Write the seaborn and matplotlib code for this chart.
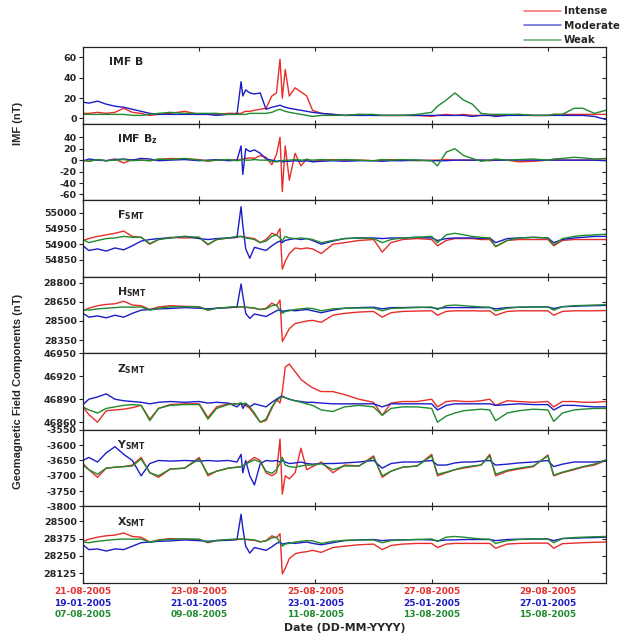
import numpy as np
import pandas as pd
import matplotlib
matplotlib.use('Agg')
import matplotlib.pyplot as plt
import matplotlib.lines as mlines
import seaborn as sns

# sample times in days since 21-08-2005 00 UT (intense storm)
days = [0.0, 0.1, 0.25, 0.4, 0.55, 0.7, 0.85, 1.0, 1.15, 1.3,
        1.5, 1.75, 2.0, 2.15, 2.3, 2.5, 2.65, 2.72, 2.75, 2.8,
        2.87, 2.95, 3.05, 3.15, 3.25, 3.33, 3.39, 3.43, 3.48, 3.55,
        3.65, 3.75, 3.85, 3.95, 4.1, 4.3, 4.5, 4.75, 5.0, 5.15,
        5.3, 5.5, 5.75, 6.0, 6.1, 6.25, 6.4, 6.55, 6.7, 6.85,
        7.0, 7.1, 7.3, 7.5, 7.75, 8.0, 8.1, 8.25, 8.45, 8.6,
        8.8, 9.0]

storms = ['Intense', 'Moderate', 'Weak']
colors = ['#e62e2a', '#1c1cc8', '#1f8a2e']

# IMF B (nT)
imf_b_intense = [5, 5, 6, 5, 6, 10, 6, 5, 3, 4,
                 5, 7, 4, 4, 4, 5, 5, 5, 6, 7,
                 7, 8, 9, 10, 22, 25, 58, 20, 48, 22,
                 30, 26, 22, 8, 5, 4, 3, 4, 3, 3,
                 3, 3, 3, 2, 3, 4, 3, 4, 3, 3,
                 3, 3, 3, 4, 3, 3, 4, 4, 4, 4,
                 4, 4]
imf_b_moderate = [16, 15, 17, 14, 12, 11, 9, 7, 5, 4,
                  4, 4, 4, 4, 3, 4, 4, 36, 22, 28,
                  25, 24, 25, 9, 11, 12, 13, 12, 11, 10,
                  9, 8, 7, 6, 5, 4, 3, 3, 3, 3,
                  3, 3, 3, 3, 3, 3, 3, 3, 2, 3,
                  3, 2, 3, 3, 3, 3, 3, 3, 3, 3,
                  2, -1]
imf_b_weak = [4, 4, 4, 4, 4, 4, 3, 3, 4, 5,
              6, 5, 5, 5, 5, 4, 4, 4, 4, 4,
              5, 5, 5, 5, 6, 8, 9, 8, 7, 6,
              5, 4, 3, 2, 3, 3, 3, 4, 4, 3,
              3, 3, 4, 6, 12, 18, 25, 18, 14, 5,
              4, 4, 4, 4, 3, 3, 4, 4, 10, 10,
              5, 8]

# IMF Bz (nT)
bz_intense = [0, -2, 1, -1, 2, -5, 1, 0, -1, 1,
              3, 2, 1, -2, 0, 1, 0, 1, 2, 3,
              4, 3, 8, 5, -8, 10, 40, -55, 25, -35,
              12, -10, 2, -2, 0, 1, 0, 0, -1, 0,
              1, 0, -1, 0, 0, 1, 0, 0, 0, 0,
              -1, 0, 0, -3, -2, 0, 1, 0, 0, 0,
              0, 0]
bz_moderate = [-2, 2, 0, -1, 1, 2, 0, 3, 2, -1,
               0, 1, -1, 0, 1, -1, 0, 25, -25, 20,
               15, 18, 12, 2, 0, -2, -1, -3, -2, -2,
               -1, -2, -1, -3, -2, -1, -2, -1, -1, -2,
               -1, -1, 0, -1, -1, -1, 0, 0, 0, 0,
               0, 0, 0, 0, 0, 0, 0, 0, 0, 0,
               0, -1]
bz_weak = [0, -2, 1, -1, 0, 1, -1, 0, -1, 2,
           1, 3, 0, -1, 0, 1, -1, 0, 1, 0,
           0, 1, 0, 0, -2, -3, -2, -1, 0, 0,
           1, 0, 1, 0, 1, 0, 1, 0, -1, 1,
           0, 1, 0, -1, -10, 14, 20, 8, 3, -2,
           0, 2, 0, 1, 2, 0, 2, 3, 5, 4,
           2, 3]

# F SMT (nT)
f_intense = [54912, 54918, 54925, 54930, 54935, 54942, 54925, 54922, 54900, 54915,
             54922, 54920, 54922, 54898, 54915, 54920, 54922, 54925, 54924, 54922,
             54920, 54918, 54905, 54915, 54935, 54930, 54950, 54820, 54845, 54870,
             54888, 54885, 54888, 54885, 54870, 54900, 54905, 54912, 54915, 54875,
             54905, 54915, 54918, 54915, 54895, 54912, 54918, 54918, 54918, 54915,
             54915, 54892, 54912, 54915, 54915, 54915, 54895, 54912, 54915, 54915,
             54915, 54915]
f_moderate = [54895, 54880, 54885, 54878, 54888, 54882, 54895, 54910, 54915, 54918,
              54920, 54925, 54918, 54915, 54918, 54920, 54922, 55020, 54960, 54885,
              54855, 54890, 54885, 54880, 54895, 54905, 54910, 54905, 54912, 54915,
              54918, 54915, 54918, 54912, 54900, 54910, 54918, 54920, 54920, 54918,
              54920, 54920, 54922, 54920, 54912, 54918, 54920, 54920, 54920, 54918,
              54920, 54905, 54918, 54920, 54922, 54920, 54905, 54915, 54920, 54922,
              54925, 54925]
f_weak = [54915, 54905, 54912, 54918, 54920, 54925, 54922, 54922, 54902, 54915,
          54920, 54925, 54922, 54900, 54915, 54920, 54925, 54925, 54922, 54920,
          54918, 54915, 54905, 54910, 54925, 54930, 54920, 54910, 54925, 54920,
          54918, 54920, 54918, 54915, 54905, 54912, 54918, 54920, 54918, 54905,
          54915, 54920, 54922, 54925, 54905, 54930, 54935, 54930, 54925, 54922,
          54920, 54893, 54912, 54920, 54922, 54920, 54898, 54918, 54925, 54928,
          54930, 54932]

# H SMT (nT)
h_intense = [28580, 28600, 28620, 28630, 28635, 28655, 28625, 28620, 28590, 28610,
             28620, 28615, 28612, 28585, 28600, 28605, 28608, 28610, 28610, 28608,
             28605, 28600, 28590, 28600, 28640, 28620, 28665, 28340, 28380, 28440,
             28480, 28490, 28500, 28505, 28490, 28545, 28560, 28570, 28575, 28530,
             28565, 28575, 28578, 28580, 28545, 28575, 28580, 28580, 28580, 28578,
             28580, 28545, 28575, 28580, 28580, 28580, 28545, 28575, 28580, 28580,
             28580, 28582]
h_moderate = [28560, 28530, 28540, 28525, 28545, 28530, 28560, 28585, 28590, 28595,
              28598, 28605, 28600, 28595, 28600, 28605, 28610, 28790, 28700, 28560,
              28520, 28555, 28545, 28535, 28560, 28580, 28590, 28575, 28580, 28585,
              28580, 28585, 28590, 28580, 28565, 28585, 28600, 28605, 28608, 28595,
              28605, 28605, 28608, 28605, 28598, 28605, 28605, 28605, 28605, 28605,
              28605, 28595, 28605, 28608, 28610, 28610, 28598, 28612, 28615, 28618,
              28620, 28622]
h_weak = [28590, 28585, 28595, 28600, 28605, 28610, 28608, 28610, 28585, 28600,
          28610, 28612, 28610, 28585, 28600, 28608, 28612, 28612, 28610, 28608,
          28605, 28602, 28590, 28595, 28620, 28625, 28580, 28560, 28575, 28580,
          28590, 28595, 28600, 28598, 28580, 28595, 28600, 28602, 28602, 28580,
          28598, 28602, 28605, 28610, 28590, 28620, 28625, 28620, 28615, 28610,
          28608, 28580, 28600, 28608, 28610, 28610, 28585, 28612, 28620, 28622,
          28625, 28628]

# Z SMT (nT)
z_intense = [46880, 46870, 46860, 46875, 46876, 46877, 46879, 46882, 46864, 46878,
             46883, 46884, 46884, 46866, 46880, 46884, 46884, 46884, 46883, 46882,
             46878, 46870, 46860, 46862, 46878, 46890, 46885, 46900, 46932, 46936,
             46926, 46916, 46910, 46905, 46900, 46900, 46896, 46890, 46886, 46869,
             46885, 46887, 46887, 46890, 46880, 46887, 46888, 46887, 46887, 46888,
             46890, 46882, 46888, 46887, 46886, 46887, 46880, 46887, 46887, 46886,
             46886, 46887]
z_moderate = [46883, 46890, 46893, 46897, 46890, 46888, 46887, 46886, 46884, 46886,
              46887, 46886, 46887, 46885, 46886, 46885, 46880, 46885, 46878, 46884,
              46880, 46884, 46882, 46880, 46886, 46890, 46893, 46894, 46892, 46890,
              46888, 46887, 46886, 46886, 46885, 46884, 46884, 46884, 46884, 46880,
              46884, 46884, 46884, 46884, 46876, 46882, 46884, 46884, 46884, 46884,
              46884, 46882, 46883, 46884, 46883, 46883, 46876, 46882, 46882, 46881,
              46880, 46880]
z_weak = [46880, 46876, 46872, 46878, 46880, 46882, 46883, 46882, 46862, 46878,
          46882, 46883, 46883, 46864, 46878, 46883, 46884, 46885, 46884, 46885,
          46880, 46872, 46860, 46864, 46880, 46888, 46892, 46893, 46892, 46890,
          46888, 46886, 46884, 46882, 46876, 46874, 46880, 46882, 46880, 46869,
          46878, 46880, 46880, 46878, 46860, 46868, 46872, 46875, 46876, 46877,
          46876, 46862, 46872, 46875, 46877, 46876, 46861, 46872, 46876, 46877,
          46878, 46878]

# Y SMT (nT)
y_intense = [-3660, -3680, -3705, -3675, -3672, -3670, -3665, -3640, -3690, -3705,
             -3678, -3675, -3640, -3700, -3685, -3675, -3672, -3670, -3668, -3660,
             -3650, -3640, -3650, -3690, -3700, -3690, -3580, -3760, -3700, -3710,
             -3690, -3610, -3680, -3670, -3655, -3690, -3665, -3668, -3635, -3705,
             -3685, -3672, -3668, -3630, -3700, -3690, -3680, -3675, -3670, -3665,
             -3630, -3700, -3685, -3678, -3670, -3632, -3700, -3690, -3680, -3672,
             -3665, -3650]
y_moderate = [-3650, -3640, -3655, -3625, -3605, -3630, -3650, -3700, -3660, -3650,
              -3652, -3650, -3652, -3650, -3652, -3650, -3655, -3630, -3690, -3650,
              -3700, -3730, -3660, -3650, -3652, -3650, -3655, -3650, -3655, -3660,
              -3658, -3655, -3660, -3662, -3660, -3660, -3658, -3655, -3650, -3675,
              -3660, -3655, -3655, -3650, -3665, -3665, -3658, -3655, -3655, -3652,
              -3650, -3665, -3662, -3658, -3655, -3650, -3670, -3662, -3655, -3655,
              -3655, -3652]
y_weak = [-3665, -3680, -3695, -3675, -3672, -3670, -3668, -3645, -3690, -3700,
          -3678, -3675, -3645, -3695, -3685, -3675, -3672, -3670, -3668, -3662,
          -3655, -3648, -3655, -3685, -3692, -3680, -3660, -3640, -3665, -3670,
          -3672, -3668, -3665, -3665, -3660, -3680, -3668, -3668, -3640, -3700,
          -3685, -3672, -3668, -3635, -3695, -3688, -3680, -3672, -3668, -3665,
          -3635, -3695, -3682, -3675, -3668, -3635, -3698, -3688, -3678, -3670,
          -3662, -3648]

# X SMT (nT)
x_intense = [28355, 28370, 28385, 28395, 28400, 28415, 28390, 28385, 28350, 28365,
             28375, 28370, 28368, 28345, 28360, 28365, 28368, 28370, 28370, 28368,
             28365, 28362, 28350, 28360, 28395, 28380, 28410, 28120, 28160, 28230,
             28265, 28275, 28280, 28290, 28275, 28310, 28320, 28330, 28335, 28295,
             28325, 28335, 28340, 28340, 28310, 28335, 28340, 28340, 28340, 28340,
             28340, 28305, 28335, 28340, 28342, 28342, 28305, 28338, 28342, 28345,
             28348, 28350]
x_moderate = [28330, 28295, 28300, 28285, 28300, 28295, 28320, 28345, 28350, 28355,
              28358, 28365, 28360, 28355, 28360, 28362, 28368, 28550, 28450, 28320,
              28270, 28310, 28300, 28290, 28315, 28340, 28350, 28335, 28340, 28345,
              28340, 28345, 28350, 28340, 28330, 28345, 28360, 28365, 28368, 28360,
              28365, 28365, 28368, 28365, 28358, 28365, 28365, 28368, 28368, 28368,
              28368, 28360, 28368, 28370, 28372, 28372, 28360, 28375, 28378, 28380,
              28382, 28385]
x_weak = [28350, 28345, 28355, 28362, 28368, 28372, 28370, 28372, 28348, 28362,
          28370, 28372, 28370, 28348, 28362, 28368, 28372, 28372, 28370, 28370,
          28368, 28365, 28352, 28358, 28380, 28385, 28345, 28320, 28335, 28340,
          28350, 28355, 28360, 28358, 28340, 28355, 28362, 28365, 28365, 28345,
          28360, 28365, 28368, 28372, 28355, 28385, 28390, 28385, 28378, 28372,
          28370, 28340, 28360, 28368, 28372, 28372, 28345, 28375, 28382, 28385,
          28388, 28390]

tick_days = [0, 2, 4, 6, 8]
intense_dates = ['21-08-2005', '23-08-2005', '25-08-2005', '27-08-2005', '29-08-2005']
moderate_dates = ['19-01-2005', '21-01-2005', '23-01-2005', '25-01-2005', '27-01-2005']
weak_dates = ['07-08-2005', '09-08-2005', '11-08-2005', '13-08-2005', '15-08-2005']

panels = [
    (r'IMF B', [imf_b_intense, imf_b_moderate, imf_b_weak], (-5, 70), [0, 20, 40, 60]),
    (r'IMF B$_\mathbf{z}$', [bz_intense, bz_moderate, bz_weak], (-70, 64), [-60, -40, -20, 0, 20, 40]),
    (r'$\mathbf{F_{SMT}}$', [f_intense, f_moderate, f_weak], (54796, 55041), [54850, 54900, 54950, 55000]),
    (r'$\mathbf{H_{SMT}}$', [h_intense, h_moderate, h_weak], (28247, 28847), [28350, 28500, 28650, 28800]),
    (r'$\mathbf{Z_{SMT}}$', [z_intense, z_moderate, z_weak], (46850, 46950), [46860, 46890, 46920, 46950]),
    (r'$\mathbf{Y_{SMT}}$', [y_intense, y_moderate, y_weak], (-3800, -3550), [-3800, -3750, -3700, -3650, -3600, -3550]),
    (r'$\mathbf{X_{SMT}}$', [x_intense, x_moderate, x_weak], (28054, 28607), [28125, 28250, 28375, 28500]),
]

sns.set_style('ticks')
plt.rcParams['font.family'] = ['DejaVu Sans']
plt.rcParams['mathtext.fontset'] = 'dejavusans'

fig = plt.figure(figsize=(6.2, 6.39), dpi=100)
gs = fig.add_gridspec(7, 1, left=83 / 620, right=606 / 620,
                      top=1 - 47 / 639, bottom=1 - 583 / 639, hspace=0)

for k, (label, series, ylim, yticks) in enumerate(panels):
    ax = fig.add_subplot(gs[k])
    for s in series:
        assert len(s) == len(days)
    df = pd.DataFrame({'day': days * 3,
                       'value': series[0] + series[1] + series[2],
                       'storm': [st for st in storms for _ in days]})
    sns.lineplot(data=df, x='day', y='value', hue='storm', palette=colors,
                 estimator=None, lw=1.0, legend=False, ax=ax)
    ax.set_xlim(0, 9)
    ax.set_ylim(*ylim)
    ax.set_yticks(yticks)
    ax.set_yticklabels([str(v) for v in yticks], fontsize=6.8, fontweight='bold')
    ax.set_xticks(tick_days)
    ax.set_xticklabels([])
    ax.set_xlabel('')
    ax.set_ylabel('')
    ax.tick_params(axis='x', direction='in', top=True, length=3, width=0.8)
    ax.tick_params(axis='y', direction='out', right=True, length=3, width=0.8, pad=1.5)
    for t in ax.yaxis.get_major_ticks():
        t.tick2line.set_marker(mlines.TICKLEFT)
    for sp in ax.spines.values():
        sp.set_linewidth(0.9)
        sp.set_color('#222222')
    ax.text(0.05 if k == 0 else 0.065, 0.8, label, transform=ax.transAxes,
            fontsize=7.8, fontweight='bold', va='center')

# three-line date labels under the bottom panel
for d, a, b, c in zip(tick_days, intense_dates, moderate_dates, weak_dates):
    for txt, col, off in [(a, colors[0], -6), (b, colors[1], -14.5), (c, colors[2], -23)]:
        ax.annotate(txt, xy=(d, 0), xycoords=('data', 'axes fraction'),
                    xytext=(0, off), textcoords='offset points',
                    ha='center', va='center', fontsize=6.5, fontweight='bold', color=col)

fig.text(0.5565, 1 - 628 / 639, 'Date (DD-MM-YYYY)', ha='center', va='center',
         fontsize=7.8, fontweight='bold')
fig.text(18 / 620, 1 - 123 / 639, 'IMF (nT)', rotation=90, ha='center', va='center',
         fontsize=8, fontweight='bold', family='Liberation Sans')
fig.text(18 / 620, 1 - 391 / 639, 'Geomagnetic Field Components (nT)', rotation=90,
         ha='center', va='center', fontsize=8, fontweight='bold', family='Liberation Sans')

handles = [mlines.Line2D([], [], color=c, lw=1.1, alpha=0.7) for c in colors]
fig.legend(handles, storms, loc='upper right', bbox_to_anchor=(1.01, 1.0),
           frameon=False, prop={'size': 7.4, 'weight': 'bold'}, handlelength=3.6,
           labelspacing=0.45, handletextpad=0.3, borderaxespad=0.2)

fig.savefig('out.png', dpi=100)
